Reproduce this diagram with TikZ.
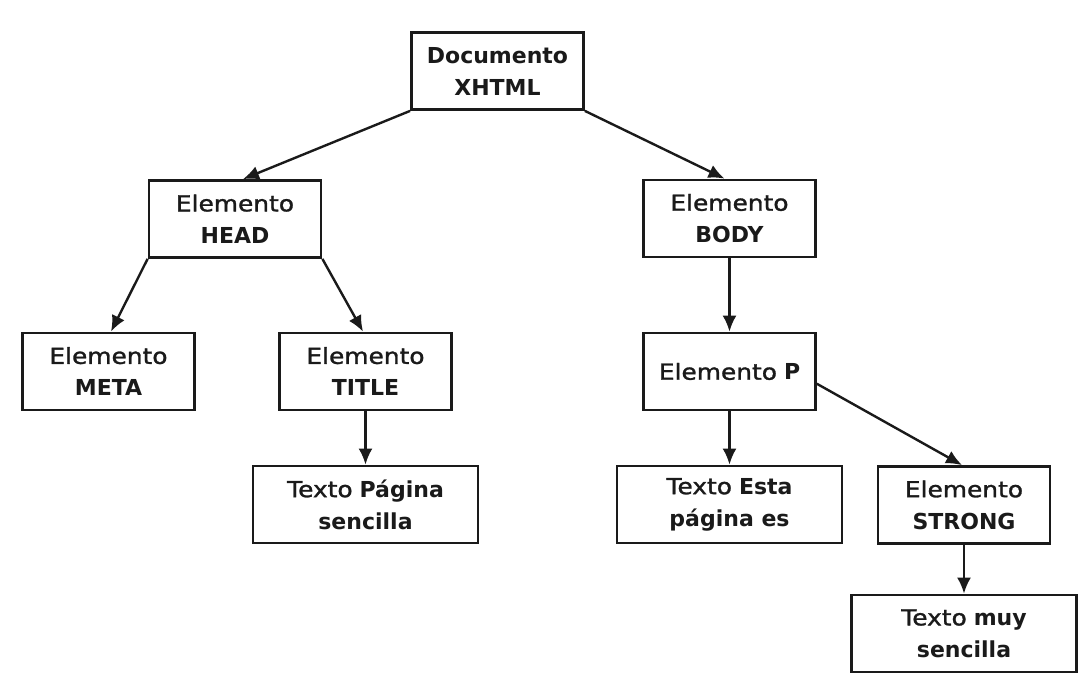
\documentclass[tikz,border=0pt]{standalone}
\usepackage{fontspec}
\setmainfont{DejaVu Sans}
\newfontfamily\regfont{DejaVu Sans}[FakeStretch=1.13, FakeBold=1.3]
\usetikzlibrary{arrows.meta}
\definecolor{ink}{HTML}{1A1A1A}
\tikzset{
  box/.style={draw=ink, line width=2.8pt, fill=white, inner sep=0pt,
    minimum width=172pt, minimum height=77pt, align=center,
    font=\fontsize{22}{32}\selectfont, text=ink},
  wide/.style={box, minimum width=225pt},
  conn/.style={draw=ink, line width=2.4pt, -{Latex[length=16pt,width=14pt]}}
}
\newcommand{\rg}[1]{{\regfont #1}}
\begin{document}
\begin{tikzpicture}[x=1pt,y=-1pt]
\useasboundingbox (0,0) rectangle (1088,688);
\node[box] (doc) at (497.5,71) {\bfseries Documento\\\bfseries XHTML};
\node[box] (head) at (235,219) {\rg{Elemento}\\\bfseries HEAD};
\node[box] (body) at (729.5,218.5) {\rg{Elemento}\\\bfseries BODY};
\node[box] (meta) at (108.5,371.5) {\rg{Elemento}\\\bfseries META};
\node[box] (title) at (365.5,371.5) {\rg{Elemento}\\\bfseries TITLE};
\node[box] (p) at (729.5,371.5) {\rg{Elemento} \textbf{P}};
\node[wide] (pagina) at (365.5,504.5) {\rg{Texto} \textbf{Página}\\\bfseries sencilla};
\node[wide] (esta) at (729.5,504.5) {\rg{Texto} \textbf{Esta}\\\bfseries página es};
\node[box] (strong) at (964,505) {\rg{Elemento}\\\bfseries STRONG};
\node[wide] (muy) at (964,633.5) {\rg{Texto} \textbf{muy}\\\bfseries sencilla};
\draw[conn] (doc.south west) -- ([xshift=8pt]head.north);
\draw[conn] (doc.south east) -- ([xshift=-5pt]body.north);
\draw[conn] (head.south west) -- ([xshift=2.5pt]meta.north);
\draw[conn] (head.south east) -- ([xshift=-2.5pt]title.north);
\draw[conn] (body.south) -- (p.north);
\draw[conn] (title.south) -- (pagina.north);
\draw[conn] (p.south) -- (esta.north);
\draw[conn] (p.-8) -- ([xshift=-2pt]strong.north);
\draw[conn] (strong.south) -- (muy.north);
\end{tikzpicture}
\end{document}
